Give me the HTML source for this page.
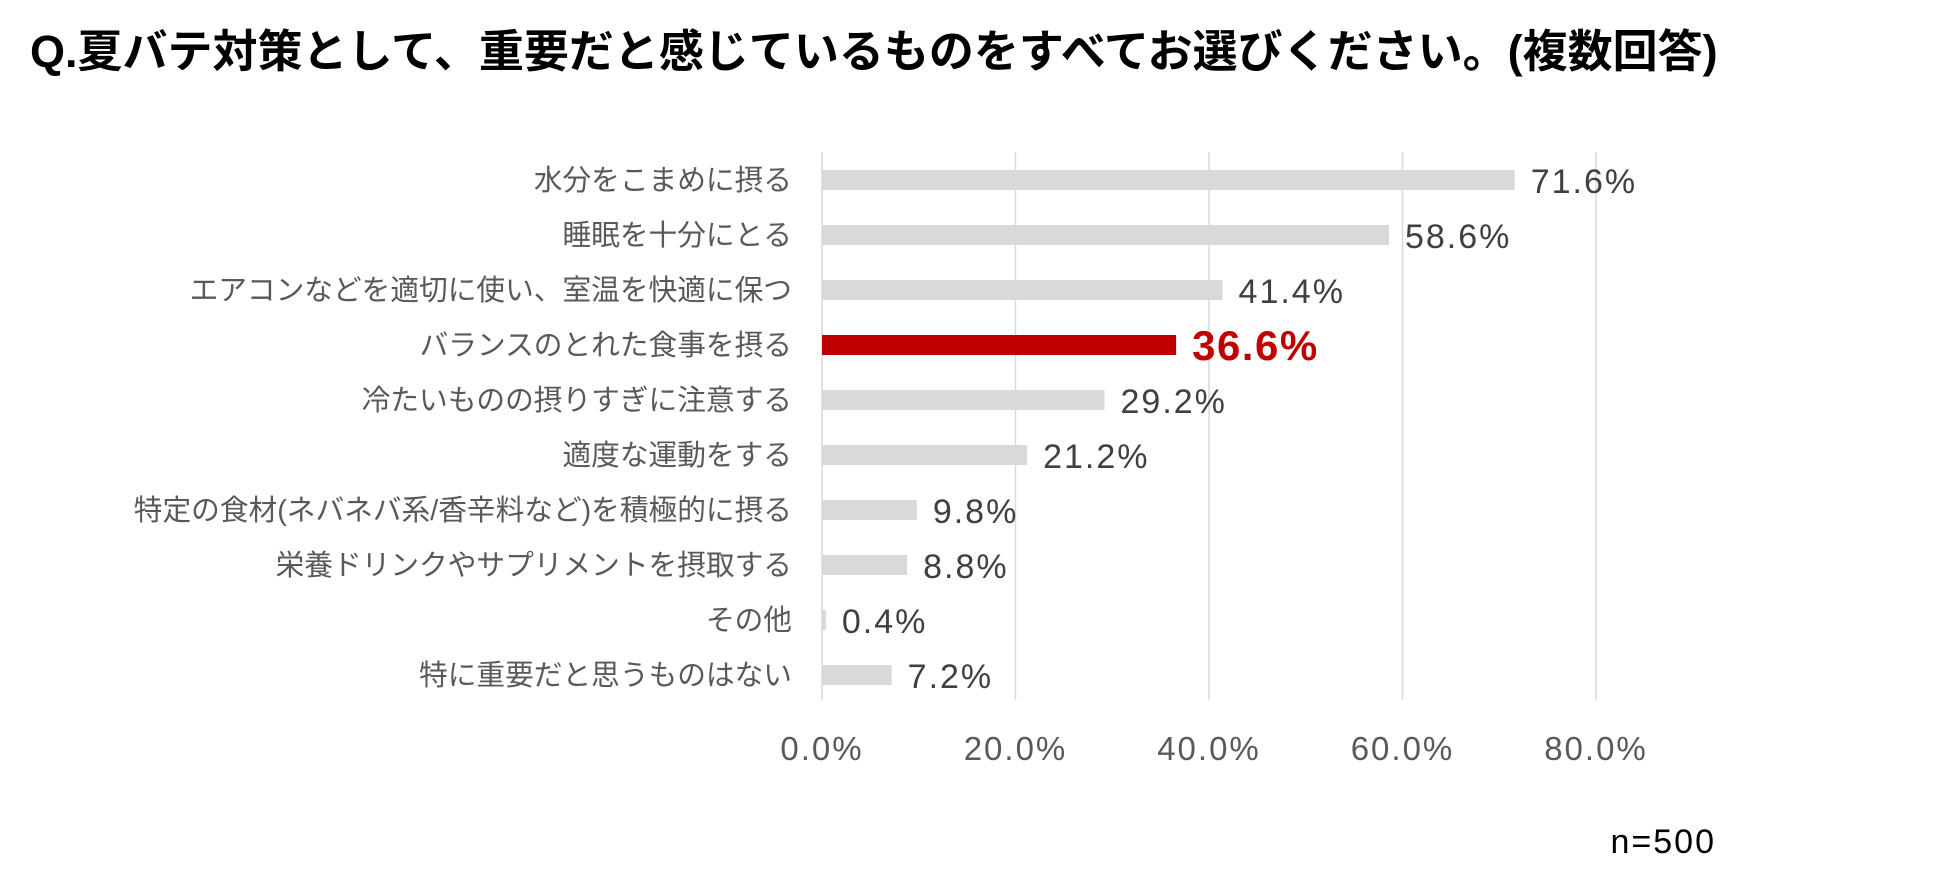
<!DOCTYPE html>
<html><head><meta charset="utf-8"><style>
body{margin:0;background:#fff;width:1950px;height:878px;overflow:hidden;font-family:"Liberation Sans","Noto Sans CJK JP",sans-serif}
</style></head><body>
<svg width="1950" height="878" id="svg" xmlns="http://www.w3.org/2000/svg">
<text x="30" y="67" font-size="45" font-weight="bold" fill="#000">Q.夏バテ対策として、重要だと感じているものをすべてお選びください。(複数回答)</text>
<text x="1716" y="853" font-size="34" letter-spacing="2" fill="#000" text-anchor="end">n=500</text>
</svg>
<script>
const categories=["水分をこまめに摂る","睡眠を十分にとる","エアコンなどを適切に使い、室温を快適に保つ","バランスのとれた食事を摂る","冷たいものの摂りすぎに注意する","適度な運動をする","特定の食材(ネバネバ系/香辛料など)を積極的に摂る","栄養ドリンクやサプリメントを摂取する","その他","特に重要だと思うものはない"];
const values=[71.6,58.6,41.4,36.6,29.2,21.2,9.8,8.8,0.4,7.2];
const highlight=[false,false,false,true,false,false,false,false,false,false];
const ticks=[0,20,40,60,80];
const svg=document.getElementById('svg');
const NS='http://www.w3.org/2000/svg';
const x=v=>822+v*(1596-822)/80;
const y=i=>180+i*55;
function mk(t,a){const e=document.createElementNS(NS,t);for(const k in a)e.setAttribute(k,a[k]);svg.appendChild(e);return e;}
ticks.forEach(t=>{
 const g=mk('line',{x1:x(t),x2:x(t),y1:152,y2:700,stroke:'#d9d9d9','stroke-width':1.5});
 
 
 const l=mk('text',{x:x(t),y:760,'font-size':33,'letter-spacing':2,fill:'#595959','text-anchor':'middle'});
 l.textContent=t.toFixed(1)+'%';
 
 
});
categories.forEach((c,i)=>{
 const h=highlight[i];
 const b=mk('rect',{x:x(0),y:y(i)-10,width:Math.max(x(values[i])-x(0),2),height:20,fill:h?'#c00000':'#d9d9d9'});
 
 
 const cl=mk('text',{x:792,y:y(i)+10,'font-size':28.7,fill:'#595959','text-anchor':'end'});
 cl.textContent=c;
 
 
 const vl=mk('text',{x:x(values[i])+16,y:y(i)+(h?15:13),'font-size':h?42:34,'letter-spacing':h?1.5:2,'font-weight':h?'bold':'normal',fill:h?'#c00000':'#404040'});
 vl.textContent=values[i].toFixed(1)+'%';
 
 
});
</script>
</body></html>
